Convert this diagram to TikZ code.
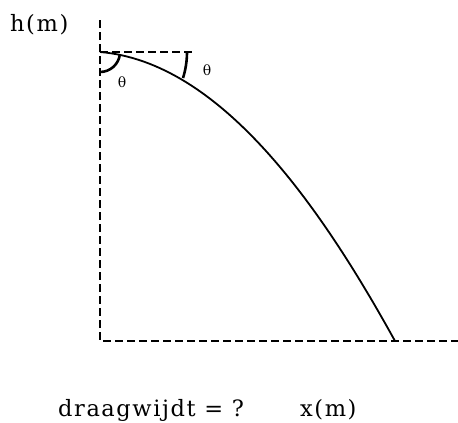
\documentclass[tikz,border=0pt]{standalone}
\usepackage{fontspec}
\setmainfont{DejaVu Serif}
\begin{document}
\begin{tikzpicture}[x=1pt,y=-1pt,
  axisline/.style={line width=1.3pt,dash pattern=on 8pt off 4pt},
  pathline/.style={line width=1.8pt},
  anglearc/.style={line width=2.6pt},
  biglabel/.style={inner sep=0pt,anchor=base west,font=\fontsize{22.5}{26}\selectfont\addfontfeature{LetterSpace=7}},
  anglelabel/.style={inner sep=0pt,font=\fontsize{14}{16}\selectfont}]
\useasboundingbox (0,0) rectangle (458,423);
\coordinate (top) at (100,20);
\coordinate (origin) at (100,341);
\coordinate (xend) at (458,341);
\coordinate (launch) at (100,52);
\coordinate (refend) at (195,52);
\coordinate (land) at (395,341);
% axes
\draw[axisline] (top) -- (origin) -- (xend);
\draw[axisline] (launch) -- (refend);
% trajectory
\draw[pathline] (launch) .. controls (220,62) and (320,205) .. (land);
% angle arcs
\draw[anglearc] (launch) ++(90:20) arc[start angle=90,end angle=6,radius=20];
\draw[anglearc] (launch) ++(0:87) arc[start angle=0,end angle=17.4,radius=87];
\node[anglelabel] (thetaL) at (122,82) {θ};
\node[anglelabel] (thetaR) at (207,70) {θ};
% labels
\node[biglabel] (hlab) at (10,31.5) {h(m)};
\node[biglabel] (rlab) at (58,416) {draagwijdt = ?};
\node[biglabel] (xlab) at (300,416.5) {x(m)};
\end{tikzpicture}
\end{document}
